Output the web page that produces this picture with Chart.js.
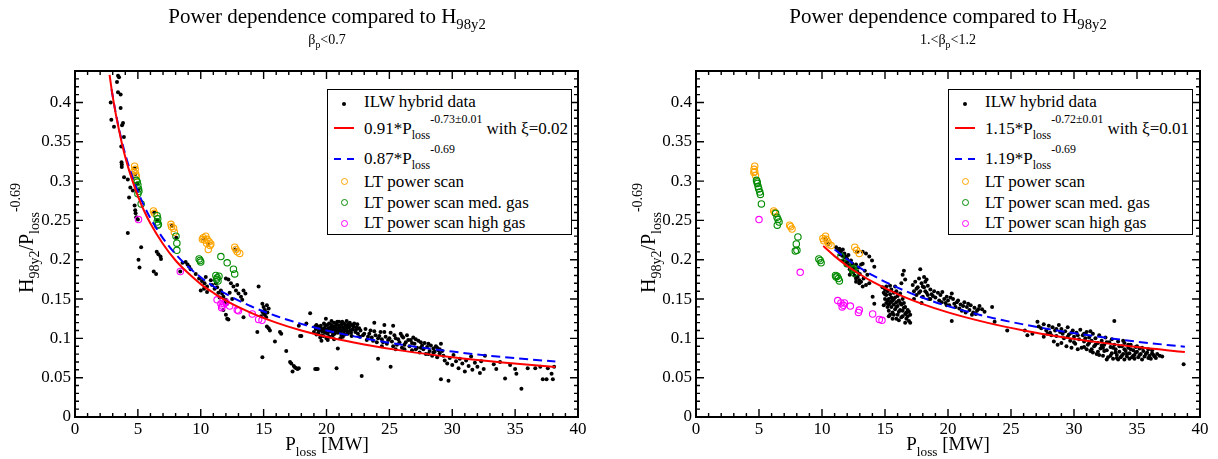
<!DOCTYPE html>
<html>
<head>
<meta charset="UTF-8">
<script src="https://cdn.jsdelivr.net/npm/chart.js@4.4.1/dist/chart.umd.min.js"></script>
<style>
    body { margin: 0; background: #fff; }
    #wrap { position: relative; width: 1218px; height: 459px; font-family: "Liberation Serif", "Times New Roman", serif; color: #000; overflow: hidden; }
    canvas { position: absolute; top: 0; }
    .title { position: absolute; font-size: 21px; line-height: 21px; white-space: nowrap; transform: translateX(-50%); }
    .subtitle { position: absolute; font-size: 14px; line-height: 14px; white-space: nowrap; transform: translateX(-50%); }
    .xtitle { position: absolute; font-size: 19px; line-height: 19px; white-space: nowrap; transform: translateX(-50%); }
    .ytitle { position: absolute; width: 200px; text-align: center; font-size: 20px; line-height: 20px; white-space: nowrap; transform-origin: 0 0; transform: rotate(-90deg); }
    .sb { font-size: 70%; position: relative; top: 0.42em; }
    .sp { font-size: 70%; position: relative; top: -0.92em; }
    .legend { position: absolute; top: 89px; width: 245px; height: 146px; border: 1px solid #000; box-sizing: border-box; background: #fff; }
    .legend .txt { position: absolute; left: 36px; font-size: 17px; line-height: 17px; white-space: nowrap; }
    .legend .sym { position: absolute; box-sizing: border-box; }
</style>
</head>
<body>
<div id="wrap">
    <canvas id="leftChart" width="609" height="459" style="left:0px"></canvas>
    <canvas id="rightChart" width="609" height="459" style="left:609px"></canvas>

    <div class="title" style="left:327px;top:6px">Power dependence compared to H<span class="sb">98y2</span></div>
    <div class="subtitle" style="left:327px;top:33px">&beta;<span class="sb">p</span>&lt;0.7</div>
    <div class="title" style="left:948px;top:6px">Power dependence compared to H<span class="sb">98y2</span></div>
    <div class="subtitle" style="left:948px;top:33px">1.&lt;&beta;<span class="sb">p</span>&lt;1.2</div>

    <div class="xtitle" style="left:327px;top:434px">P<span class="sb">loss</span> [MW]</div>
    <div class="xtitle" style="left:948px;top:434px">P<span class="sb">loss</span> [MW]</div>

    <div class="ytitle" style="left:16px;top:338px">H<span class="sb">98y2</span>/P<span class="sb">loss</span><span class="sp">-0.69</span></div>
    <div class="ytitle" style="left:638px;top:338px">H<span class="sb">98y2</span>/P<span class="sb">loss</span><span class="sp">-0.69</span></div>

    <div class="legend" style="left:327px">
        <div class="sym" style="left:14px;top:11.5px;width:4px;height:4px;border-radius:50%;background:#000"></div>
        <div class="txt" style="top:3px">ILW hybrid data</div>
        <div class="sym" style="left:6px;top:37px;width:20px;height:2px;background:#f00"></div>
        <div class="txt" style="top:30px">0.91*P<span class="sb">loss</span><span class="sp">-0.73&plusmn;0.01</span> with &xi;=0.02</div>
        <div class="sym" style="left:6px;top:68px;width:7px;height:2px;background:#00f"></div>
        <div class="sym" style="left:19px;top:68px;width:7px;height:2px;background:#00f"></div>
        <div class="txt" style="top:60px">0.87*P<span class="sb">loss</span><span class="sp">-0.69</span></div>
        <div class="sym" style="left:13px;top:88px;width:7px;height:7px;border-radius:50%;border:1px solid #ffa500"></div>
        <div class="txt" style="top:83px">LT power scan</div>
        <div class="sym" style="left:13px;top:109px;width:7px;height:7px;border-radius:50%;border:1px solid #008b00"></div>
        <div class="txt" style="top:104px">LT power scan med. gas</div>
        <div class="sym" style="left:13px;top:130px;width:7px;height:7px;border-radius:50%;border:1px solid #f0f"></div>
        <div class="txt" style="top:124px">LT power scan high gas</div>
    </div>

    <div class="legend" style="left:948px">
        <div class="sym" style="left:14px;top:11.5px;width:4px;height:4px;border-radius:50%;background:#000"></div>
        <div class="txt" style="top:3px">ILW hybrid data</div>
        <div class="sym" style="left:6px;top:37px;width:20px;height:2px;background:#f00"></div>
        <div class="txt" style="top:30px">1.15*P<span class="sb">loss</span><span class="sp">-0.72&plusmn;0.01</span> with &xi;=0.01</div>
        <div class="sym" style="left:6px;top:68px;width:7px;height:2px;background:#00f"></div>
        <div class="sym" style="left:19px;top:68px;width:7px;height:2px;background:#00f"></div>
        <div class="txt" style="top:60px">1.19*P<span class="sb">loss</span><span class="sp">-0.69</span></div>
        <div class="sym" style="left:13px;top:88px;width:7px;height:7px;border-radius:50%;border:1px solid #ffa500"></div>
        <div class="txt" style="top:83px">LT power scan</div>
        <div class="sym" style="left:13px;top:109px;width:7px;height:7px;border-radius:50%;border:1px solid #008b00"></div>
        <div class="txt" style="top:104px">LT power scan med. gas</div>
        <div class="sym" style="left:13px;top:130px;width:7px;height:7px;border-radius:50%;border:1px solid #f0f"></div>
        <div class="txt" style="top:124px">LT power scan high gas</div>
    </div>
</div>

<script>
    // axis ticks
    var xTickValues = [0, 5, 10, 15, 20, 25, 30, 35, 40];
    var yTickValues = [0, 0.05, 0.1, 0.15, 0.2, 0.25, 0.3, 0.35, 0.4];

    // ---- left panel (beta_p < 0.7) ----
    var leftIlw = [
        [3.42,0.434],[3.5,0.432],[3.34,0.426],[2.84,0.400],[3.42,0.413],[3.63,0.410],[2.89,0.378],[3.1,0.369],
        [3.63,0.393],[3.82,0.374],[3.74,0.371],[3.89,0.356],[3.68,0.344],[3.7,0.324],[3.72,0.321],[3.72,0.318],
        [3.9,0.305],[4.2,0.302],[4.4,0.292],[4.6,0.288],[4.3,0.279],[4.74,0.269],[4.79,0.263],[4.82,0.259],
        [4.87,0.254],[5.0,0.251],[4.2,0.234],[5.26,0.216],[5.05,0.200],[5.13,0.190],[6.5,0.210],[6.63,0.207],
        [6.8,0.204],[6.84,0.201],[6.26,0.185],[6.45,0.182],[8.37,0.185],
        [4.75,0.316],[4.8,0.309],[4.95,0.297],[5.05,0.289],[6.3,0.26],[6.55,0.25],[7.7,0.243],[8.05,0.228],
        [10.3,0.226],[10.6,0.22],[12.75,0.213],
        [8.55,0.196],[8.8,0.197],[8.95,0.194],[9.08,0.191],[9.2,0.188],[9.6,0.182],
        [9.87,0.176],[10.1,0.173],[10.3,0.170],[10.5,0.166],[10.4,0.178],[10.8,0.174],[10.9,0.168],[10.0,0.161],
        [10.26,0.163],[10.5,0.159],[11.2,0.170],[11.3,0.165],[11.6,0.161],[11.7,0.157],[11.8,0.153],[12.0,0.149],
        [12.1,0.144],[12.0,0.176],[12.2,0.175],[12.4,0.170],[12.6,0.166],[12.8,0.161],[12.9,0.168],[13.0,0.157],
        [13.2,0.153],[13.4,0.161],[13.55,0.157],[13.3,0.149],[11.8,0.136],[12.0,0.130],[12.1,0.125],[12.2,0.124],
        [13.4,0.127],[11.4,0.158],[11.5,0.152],[11.9,0.147],[12.3,0.158],[11.1,0.163],[12.5,0.150],
        [14.6,0.166],[14.9,0.144],[15.0,0.140],[15.1,0.136],[15.26,0.142],[15.4,0.138],[15.0,0.132],[15.2,0.127],
        [14.9,0.134],[15.1,0.130],[15.3,0.133],[14.8,0.128],[15.26,0.115],[15.4,0.113],[15.5,0.110],[14.5,0.108],
        [14.9,0.076],[15.9,0.096],[16.3,0.108],[16.4,0.106],[16.8,0.084],[17.1,0.070],[17.2,0.068],[17.4,0.065],
        [17.5,0.063],[17.6,0.062],[17.8,0.062],[17.3,0.058],[17.7,0.061],[18.0,0.103],[18.4,0.119],[18.7,0.132],
        [17.8,0.116],[17.9,0.103],
        [19.1,0.115],[19.2,0.117],[19.3,0.115],[19.5,0.113],[19.2,0.061],[19.1,0.061],[19.3,0.061],[19.95,0.125],
        [20.8,0.062],[20.9,0.087],
        [19.0,0.108],[19.2,0.105],[19.4,0.110],[19.6,0.104],[19.7,0.112],[19.8,0.108],[19.9,0.116],[20.0,0.111],
        [20.1,0.106],[20.2,0.119],[20.3,0.114],[20.3,0.109],[20.4,0.117],[20.5,0.112],[20.5,0.104],[20.6,0.120],
        [20.7,0.115],[20.7,0.110],[20.8,0.118],[20.9,0.113],[20.9,0.107],[21.0,0.121],[21.0,0.116],[21.1,0.111],
        [21.2,0.118],[21.2,0.104],[21.3,0.114],[21.4,0.119],[21.4,0.109],[21.5,0.116],[21.6,0.112],[21.7,0.118],
        [21.7,0.106],[21.8,0.114],[21.9,0.110],[22.0,0.117],[22.0,0.103],[22.1,0.112],[22.3,0.108],[22.4,0.114],
        [22.5,0.106],[19.5,0.101],[20.0,0.100],[20.6,0.099],[21.1,0.100],[19.8,0.119],[20.4,0.122],[21.6,0.122],
        [22.2,0.119],[22.8,0.052],[22.7,0.110],[22.9,0.104],
        [19.15,0.112],[19.35,0.107],[19.55,0.116],[19.65,0.109],[19.75,0.103],[19.85,0.113],[19.95,0.107],[20.05,0.117],
        [20.15,0.113],[20.25,0.102],[20.35,0.111],[20.45,0.108],[20.55,0.115],[20.65,0.106],[20.75,0.112],[20.85,0.121],
        [20.95,0.110],[21.05,0.114],[21.15,0.107],[21.25,0.121],[21.35,0.111],[21.45,0.105],[21.55,0.113],[21.65,0.109],
        [21.75,0.115],[21.85,0.120],[21.95,0.107],[22.05,0.111],[22.15,0.115],[22.35,0.111],[22.45,0.118],[22.6,0.113],
        [22.65,0.102],[20.1,0.098],[21.3,0.102],[19.6,0.097],
        [23.1,0.112],[23.2,0.098],[23.4,0.106],[23.6,0.101],[23.8,0.120],[23.8,0.109],[24.0,0.095],[24.1,0.074],
        [24.2,0.103],[24.4,0.099],[24.6,0.117],[24.6,0.108],[24.8,0.093],[25.0,0.100],[25.1,0.064],[25.2,0.096],
        [25.3,0.116],[25.4,0.104],[25.6,0.092],[25.7,0.099],[25.9,0.106],[26.0,0.088],[26.1,0.101],[26.3,0.095],
        [26.4,0.104],[26.6,0.090],[26.7,0.098],[26.8,0.085],[26.9,0.101],[27.0,0.093],[27.2,0.088],[27.3,0.097],
        [27.4,0.082],[27.6,0.091],[27.7,0.086],[27.8,0.094],[27.9,0.080],[28.0,0.089],[28.2,0.084],[28.3,0.091],
        [28.4,0.078],[28.5,0.087],[28.6,0.083],[28.7,0.090],[28.8,0.076],[28.9,0.085],[29.0,0.081],[29.1,0.093],
        [29.1,0.048],[29.7,0.046],
        [23.0,0.106],[23.3,0.102],[23.5,0.110],[23.7,0.097],[23.9,0.104],[24.1,0.100],[24.3,0.108],[24.5,0.095],
        [24.7,0.102],[24.9,0.098],[25.1,0.107],[25.3,0.090],[25.5,0.100],[25.8,0.095],[26.0,0.103],[26.2,0.092],
        [26.5,0.098],[26.8,0.094],[27.1,0.099],[27.1,0.086],[27.5,0.095],[27.5,0.088],[28.1,0.093],[28.1,0.080],
        [28.5,0.082],[28.8,0.088],[29.0,0.086],[29.2,0.084],[26.2,0.086],[25.5,0.086],[24.4,0.090],
        [29.3,0.078],[29.4,0.072],[29.6,0.068],[29.8,0.075],[30.0,0.066],[30.1,0.079],[30.3,0.071],[30.5,0.062],
        [30.6,0.074],[30.8,0.068],[31.0,0.058],[31.1,0.072],[31.3,0.065],[31.5,0.077],[31.6,0.060],[31.8,0.069],
        [32.0,0.064],[32.2,0.056],[32.3,0.071],[32.5,0.061],[32.6,0.078],[33.3,0.067],[33.5,0.061],[34.2,0.049],
        [35.0,0.061],[35.1,0.055],[35.5,0.036],[36.0,0.062],[37.0,0.064],[37.2,0.048],[37.5,0.048],[37.9,0.055],
        [38.0,0.048],[38.1,0.064],[36.6,0.062],[37.6,0.062],[34.6,0.066],[33.8,0.070]
    ];
    var leftScan = [
        [4.74,0.319],[4.79,0.315],[4.68,0.312],[4.82,0.309],[4.87,0.306],[6.24,0.262],[6.32,0.259],
        [7.63,0.245],[7.68,0.242],[7.84,0.240],[7.9,0.235],
        [10.2,0.228],[10.4,0.230],[10.3,0.225],[10.5,0.226],[10.66,0.223],[10.47,0.221],[10.8,0.220],[10.6,0.213],
        [10.13,0.226],[10.74,0.218],[12.7,0.216],[12.8,0.213],[12.9,0.210],[13.1,0.208]
    ];
    var leftScanMed = [
        [4.87,0.301],[4.95,0.299],[5.0,0.295],[5.05,0.290],[5.08,0.287],[5.0,0.284],[5.26,0.271],
        [6.53,0.256],[6.58,0.252],[6.53,0.248],[6.63,0.245],[6.58,0.244],[8.03,0.230],[8.1,0.221],[8.1,0.212],
        [9.87,0.201],[9.95,0.199],[10.0,0.197],[11.6,0.204],[12.1,0.196],[12.6,0.188],[12.7,0.182],
        [11.2,0.180],[11.3,0.177],[11.37,0.173],[11.26,0.175],[11.45,0.179]
    ];
    var leftScanHigh = [
        [5.05,0.251],[8.37,0.185],[11.3,0.149],[11.6,0.144],[11.7,0.141],[11.84,0.144],[12.0,0.146],[11.66,0.139],
        [12.3,0.141],[12.9,0.136],[13.0,0.135],[14.1,0.131],[14.6,0.124],[14.87,0.123]
    ];
    var leftFitX  = [2.75, 2.9, 3.2, 3.5, 3.8, 4.2, 4.6, 5, 5.5, 6, 7, 8, 9, 10, 11, 12, 14, 16, 18, 20, 23, 26, 30, 34, 38.2];
    var leftFitY  = [0.435, 0.418, 0.389, 0.365, 0.343, 0.319, 0.299, 0.281, 0.262, 0.246, 0.220, 0.199, 0.183, 0.169, 0.158, 0.148, 0.1325, 0.120, 0.110, 0.102, 0.0923, 0.0844, 0.076, 0.0694, 0.0637];
    var leftRefX  = [2.9, 3.2, 3.5, 3.8, 4.2, 4.6, 5, 5.5, 6, 7, 8, 9, 10, 11, 12, 14, 16, 18, 20, 23, 26, 30, 34, 38.2];
    var leftRefY  = [0.417, 0.390, 0.3665, 0.346, 0.323, 0.3035, 0.2866, 0.2683, 0.2527, 0.2272, 0.2072, 0.191, 0.1777, 0.1663, 0.1566, 0.1408, 0.1284, 0.1184, 0.1101, 0.100, 0.0919, 0.0832, 0.0763, 0.0705];

    // ---- right panel (1. < beta_p < 1.2) ----
    var rightIlw = [
        [10.3,0.226],[10.5,0.220],[12.8,0.210],
        [11.12,0.216],[11.38,0.214],[11.65,0.213],[11.25,0.212],[11.5,0.210],[11.78,0.208],[11.91,0.204],[11.65,0.199],
        [12.04,0.197],[12.17,0.193],[12.44,0.191],[11.91,0.193],[12.3,0.185],[12.57,0.180],[12.7,0.176],[12.83,0.178],
        [12.96,0.174],[13.1,0.172],[13.23,0.210],[13.49,0.208],[13.75,0.204],[13.97,0.199],[14.15,0.191],[13.23,0.195],
        [12.7,0.172],[12.96,0.170],[13.23,0.166],[13.49,0.168],[13.75,0.170],[14.02,0.153],[14.15,0.144],
        [11.8,0.203],[12.0,0.201],[12.1,0.206],[12.3,0.199],[12.4,0.195],[12.2,0.188],[12.6,0.189],[12.8,0.185],
        [11.6,0.205],[11.9,0.197],[12.5,0.184],[13.0,0.182],[12.9,0.190],[13.4,0.186],[13.6,0.181],[13.3,0.176],
        [12.2,0.181],[11.4,0.207],[12.7,0.194],[13.1,0.194],
        [14.8,0.165],[14.9,0.158],[15.0,0.150],[15.0,0.162],[15.1,0.145],[15.1,0.155],[15.2,0.140],[15.2,0.160],
        [15.3,0.150],[15.3,0.135],[15.4,0.156],[15.4,0.145],[15.5,0.162],[15.5,0.140],[15.5,0.152],[15.6,0.148],
        [15.6,0.133],[15.7,0.158],[15.7,0.143],[15.8,0.152],[15.8,0.137],[15.9,0.146],[15.9,0.160],[16.0,0.141],
        [16.0,0.154],[16.0,0.130],[16.1,0.148],[16.2,0.136],[16.2,0.157],[16.3,0.143],[16.3,0.127],[16.4,0.150],
        [16.4,0.135],[16.5,0.145],[16.6,0.131],[16.6,0.140],[16.7,0.125],[16.8,0.136],[16.9,0.122],[17.0,0.130],
        [15.3,0.128],[15.6,0.125],[16.1,0.123],[14.9,0.142],[15.8,0.166],[16.3,0.170],[16.5,0.186],[16.4,0.181],
        [16.6,0.175],
        [15.0,0.156],[15.2,0.148],[15.3,0.143],[15.4,0.130],[15.5,0.147],[15.7,0.150],[15.7,0.130],[15.9,0.140],
        [16.1,0.134],[16.2,0.145],[16.4,0.128],[16.5,0.139],[16.7,0.133],[16.8,0.128],[16.9,0.134],[17.0,0.120],
        [15.1,0.166],[15.4,0.167],[15.9,0.125],[16.6,0.120],
        [17.2,0.168],[17.3,0.160],[17.4,0.172],[17.5,0.155],[17.6,0.165],[17.7,0.176],[17.8,0.188],[17.8,0.160],
        [17.9,0.170],[18.0,0.153],[18.1,0.165],[18.2,0.172],[18.3,0.158],[18.4,0.167],[18.5,0.150],[18.6,0.162],
        [18.7,0.156],[18.9,0.160],[19.0,0.152],[17.3,0.150],[17.9,0.145],
        [17.5,0.163],[17.7,0.158],[18.0,0.166],[18.2,0.160],[18.4,0.155],[18.6,0.150],[18.8,0.154],[19.2,0.158],
        [18.3,0.175],[18.1,0.178],
        [19.3,0.148],[19.4,0.155],[19.55,0.159],[19.7,0.150],[19.8,0.145],[19.9,0.153],[20.0,0.148],[20.1,0.142],
        [20.3,0.157],[20.3,0.122],[20.4,0.150],[20.5,0.144],[20.6,0.140],[20.8,0.148],[20.9,0.138],[21.0,0.143],
        [21.1,0.135],[21.3,0.146],[21.4,0.133],[21.5,0.140],[21.7,0.136],[21.8,0.142],[22.0,0.133],[22.1,0.139],
        [22.3,0.135],[22.5,0.141],[22.7,0.137],[23.5,0.140],[23.7,0.121],
        [19.5,0.146],[20.2,0.152],[20.7,0.146],[21.2,0.141],[21.6,0.144],[22.2,0.131],[22.9,0.134],[22.4,0.137],
        [19.9,0.142],[21.9,0.130],
        [24.7,0.110],[26.1,0.110],[26.3,0.104],[26.7,0.106],[27.1,0.121],[27.2,0.115],
        [27.4,0.113],[27.6,0.118],[27.8,0.110],[28.0,0.116],[28.1,0.107],[28.3,0.114],[28.5,0.110],[28.6,0.103],
        [28.8,0.117],[28.9,0.108],[29.0,0.112],[29.2,0.100],[29.3,0.109],[29.5,0.114],[29.6,0.105],[29.7,0.097],
        [29.9,0.110],[30.0,0.102],[30.1,0.093],[30.2,0.107],[30.4,0.099],[30.5,0.111],[30.6,0.088],[30.7,0.104],
        [30.8,0.096],[31.0,0.108],[31.1,0.092],[31.2,0.101],[31.3,0.084],[31.4,0.097],[31.5,0.106],[31.6,0.090],
        [31.7,0.100],[31.8,0.080],[31.9,0.094],[32.0,0.104],[32.1,0.087],[32.2,0.097],[32.3,0.078],[32.4,0.092],
        [32.5,0.101],[32.6,0.085],[32.7,0.076],[32.8,0.095],[32.9,0.089],[33.0,0.081],[33.0,0.099],[33.1,0.074],
        [33.2,0.122],[33.2,0.092],[33.3,0.086],[33.4,0.079],[33.5,0.096],[33.6,0.083],[33.7,0.076],[33.8,0.090],
        [33.9,0.080],[34.0,0.094],[34.1,0.084],[34.2,0.077],[34.3,0.088],[34.4,0.081],[34.5,0.092],[34.6,0.076],
        [34.7,0.085],[34.8,0.079],[34.9,0.089],[35.0,0.083],[35.1,0.076],[35.2,0.087],[35.3,0.080],[35.5,0.084],
        [35.6,0.077],[35.8,0.082],[35.9,0.086],[36.0,0.078],[36.2,0.081],[36.4,0.077],[36.6,0.080],[37.0,0.077],
        [38.7,0.067],
        [28.4,0.096],[28.7,0.092],[29.0,0.094],[29.4,0.090],[29.8,0.088],[30.3,0.086],[31.5,0.082],[32.0,0.079],
        [32.6,0.073],[33.5,0.073],[34.0,0.073],[34.8,0.074],[35.4,0.073],[36.1,0.074],[36.5,0.075],[31.0,0.086],
        [30.0,0.095],
        [30.8,0.089],[31.2,0.094],[31.4,0.086],[31.9,0.083],[32.2,0.091],[32.4,0.084],[32.6,0.095],[32.9,0.078],
        [33.1,0.088],[33.3,0.082],[33.6,0.090],[33.8,0.078],[34.0,0.086],[34.2,0.080],[34.4,0.074],[34.5,0.086],
        [34.7,0.078],[34.9,0.082],[35.2,0.079],[35.4,0.088],[35.7,0.080],[35.9,0.075],[36.2,0.085],[36.3,0.079],
        [36.8,0.078],[33.4,0.075],[32.3,0.088],[31.7,0.092],[30.9,0.100],[30.3,0.104],[29.5,0.102],[29.1,0.106],
        [28.6,0.112],[28.2,0.104],[27.9,0.106],[27.6,0.102],[34.3,0.092],[35.0,0.090],[33.9,0.097],[31.3,0.109],
        [30.8,0.106],[29.8,0.107]
    ];
    var rightScan = [
        [4.66,0.319],[4.61,0.315],[4.59,0.311],[4.72,0.307],[4.66,0.312],[6.17,0.262],[6.25,0.260],
        [7.43,0.244],[7.51,0.242],[7.62,0.239],
        [10.07,0.227],[10.28,0.230],[10.14,0.224],[10.46,0.223],[10.54,0.220],[10.72,0.218],[10.33,0.226],
        [12.6,0.216],[12.75,0.212],[12.96,0.208]
    ];
    var rightScanMed = [
        [4.8,0.301],[4.87,0.297],[4.93,0.293],[4.98,0.290],[5.06,0.286],[5.11,0.283],[4.85,0.299],[5.19,0.271],
        [6.32,0.259],[6.43,0.254],[6.51,0.251],[6.59,0.248],[6.45,0.244],
        [7.96,0.220],[8.01,0.212],[7.88,0.211],[8.09,0.229],[9.75,0.201],[9.86,0.199],[9.93,0.196],
        [11.07,0.180],[11.2,0.179],[11.3,0.176],[11.38,0.173],[11.12,0.178],
        [11.5,0.204],[11.99,0.195],[12.44,0.187],[12.57,0.183],[12.52,0.189]
    ];
    var rightScanHigh = [
        [5.0,0.251],[8.27,0.184],[11.25,0.148],[11.5,0.145],[11.7,0.142],[11.6,0.140],[11.78,0.145],[12.25,0.141],
        [12.96,0.136],[12.89,0.133],[14.02,0.131],[14.55,0.124],[14.76,0.123]
    ];
    var rightFitX = [10.1, 10.5, 11, 12, 13, 14, 16, 18, 20, 23, 26, 29, 32, 35, 38.8];
    var rightFitY = [0.2176, 0.2116, 0.2046, 0.1922, 0.1815, 0.1720, 0.1562, 0.1435, 0.1330, 0.1203, 0.1101, 0.1018, 0.0949, 0.0889, 0.0826];
    var rightRefX = [11, 12, 13, 14, 16, 18, 20, 23, 26, 29, 32, 35, 38.8];
    var rightRefY = [0.213, 0.2006, 0.1898, 0.1803, 0.1645, 0.1516, 0.141, 0.128, 0.1177, 0.1091, 0.102, 0.0958, 0.0893];

    var FONT = '"Liberation Serif", "Times New Roman", serif';

    function pts(arr) {
        return arr.map(function(p){ return {x: p[0], y: p[1]}; });
    }
    function curve(xs, ys) {
        return xs.map(function(x, i){ return {x: x, y: ys[i]}; });
    }

    // frame + inward major/minor ticks on all four sides
    var frameTicks = {
        id: 'frameTicks',
        afterDatasetsDraw: function(chart) {
            var ctx = chart.ctx, a = chart.chartArea, sx = chart.scales.x, sy = chart.scales.y;
            ctx.save();
            ctx.strokeStyle = '#000';
            ctx.lineWidth = 1.4;
            ctx.beginPath();
            for (var i = 0; i <= 40; i++) {
                var px = sx.getPixelForValue(i);
                var len = (i % 5 === 0) ? 8 : 4;
                ctx.moveTo(px, a.bottom); ctx.lineTo(px, a.bottom - len);
                ctx.moveTo(px, a.top); ctx.lineTo(px, a.top + len);
            }
            for (var j = 0; j <= 44; j++) {
                var py = sy.getPixelForValue(j / 100);
                var l2 = (j % 5 === 0) ? 8 : 4;
                ctx.moveTo(a.left, py); ctx.lineTo(a.left + l2, py);
                ctx.moveTo(a.right, py); ctx.lineTo(a.right - l2, py);
            }
            ctx.stroke();
            ctx.lineWidth = 2;
            ctx.strokeRect(a.left, a.top, a.right - a.left, a.bottom - a.top);
            ctx.restore();
        }
    };

    function makePanel(id, axisWidth, padRight, ilw, scan, scanMed, scanHigh, fit, ref) {
        var ctx = document.getElementById(id).getContext('2d');
        return new Chart(ctx, {
            type: 'scatter',
            data: {
                datasets: [
                    { label: 'fit', data: fit, showLine: true, pointRadius: 0, borderColor: '#ff0000', borderWidth: 2, cubicInterpolationMode: 'monotone', fill: false },
                    { label: 'ref', data: ref, showLine: true, pointRadius: 0, borderColor: '#0000ff', borderWidth: 2, borderDash: [9, 5], cubicInterpolationMode: 'monotone', fill: false },
                    { label: 'LT power scan high gas', data: pts(scanHigh), pointRadius: 3.2, borderWidth: 1.1, borderColor: '#ff00ff', backgroundColor: 'rgba(0,0,0,0)' },
                    { label: 'LT power scan med. gas', data: pts(scanMed), pointRadius: 3.2, borderWidth: 1.1, borderColor: '#008b00', backgroundColor: 'rgba(0,0,0,0)' },
                    { label: 'LT power scan', data: pts(scan), pointRadius: 3.2, borderWidth: 1.1, borderColor: '#ffa500', backgroundColor: 'rgba(0,0,0,0)' },
                    { label: 'ILW hybrid data', data: pts(ilw), pointRadius: 2, borderWidth: 0, backgroundColor: '#000' }
                ]
            },
            options: {
                responsive: false,
                animation: false,
                events: [],
                layout: { padding: { left: 0, top: 71, right: padRight, bottom: 0 } },
                plugins: { legend: { display: false }, tooltip: { enabled: false } },
                scales: {
                    x: {
                        type: 'linear', min: 0, max: 40,
                        grid: { display: false, drawTicks: false },
                        border: { display: false },
                        ticks: { stepSize: 5, color: '#000', padding: 2, maxRotation: 0, font: { family: FONT, size: 17 } },
                        afterBuildTicks: function(s) { s.ticks = xTickValues.map(function(v){ return {value: v}; }); },
                        afterFit: function(s) { s.height = 42; }
                    },
                    y: {
                        type: 'linear', min: 0, max: 0.44,
                        grid: { display: false, drawTicks: false },
                        border: { display: false },
                        ticks: {
                            color: '#000', padding: 4, font: { family: FONT, size: 17 },
                            callback: function(v) { return String(Math.round(v * 100) / 100); }
                        },
                        afterBuildTicks: function(s) { s.ticks = yTickValues.map(function(v){ return {value: v}; }); },
                        afterFit: function(s) { s.width = axisWidth; }
                    }
                }
            },
            plugins: [frameTicks]
        });
    }

    makePanel('leftChart', 75, 31, leftIlw, leftScan, leftScanMed, leftScanHigh,
        curve(leftFitX, leftFitY), curve(leftRefX, leftRefY));
    makePanel('rightChart', 87, 18, rightIlw, rightScan, rightScanMed, rightScanHigh,
        curve(rightFitX, rightFitY), curve(rightRefX, rightRefY));
</script>
</body>
</html>
